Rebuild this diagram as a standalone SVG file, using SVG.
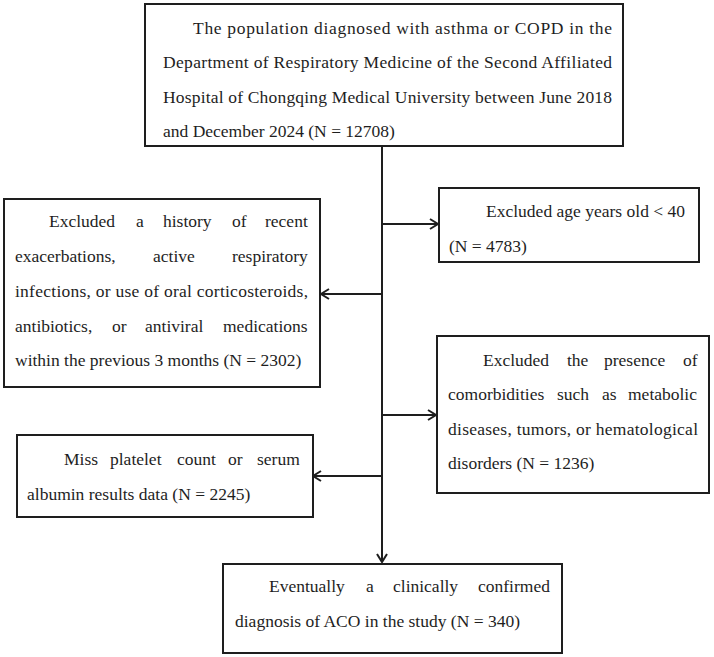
<svg xmlns="http://www.w3.org/2000/svg" width="714" height="657" viewBox="0 0 714 657">
<style>
.box{fill:#fff;stroke:#1e1e1e;stroke-width:2}
.t{font-family:"Liberation Serif","Times New Roman",serif;font-size:17.5px;fill:#1e1e1e}
.c{fill:none;stroke:#1e1e1e;stroke-width:2}
</style>
<defs>
<marker id="ah" markerUnits="userSpaceOnUse" markerWidth="14" markerHeight="14" refX="10" refY="6" orient="auto">
<path d="M2,1 L10,6 L2,11" fill="none" stroke="#1e1e1e" stroke-width="2"/>
</marker>
</defs>
<g id="connectors">
<line class="c" x1="382" y1="146" x2="382" y2="562" marker-end="url(#ah)"/>
<line class="c" x1="382" y1="224" x2="438" y2="224" marker-end="url(#ah)"/>
<line class="c" x1="382" y1="294" x2="321" y2="294" marker-end="url(#ah)"/>
<line class="c" x1="382" y1="415" x2="436" y2="415" marker-end="url(#ah)"/>
<line class="c" x1="382" y1="476" x2="313" y2="476" marker-end="url(#ah)"/>
</g>
<g id="n-population">
<rect class="box" x="145" y="4" width="478" height="142"/>
<text class="t" x="193" y="34" textLength="419" lengthAdjust="spacing">The population diagnosed with asthma or COPD in the</text>
<text class="t" x="163" y="68" textLength="449" lengthAdjust="spacing">Department of Respiratory Medicine of the Second Affiliated</text>
<text class="t" x="163" y="103" textLength="449" lengthAdjust="spacing">Hospital of Chongqing Medical University between June 2018</text>
<text class="t" x="163" y="137">and December 2024 (N = 12708)</text>
</g>
<g id="n-age">
<rect class="box" x="439" y="188" width="260" height="74"/>
<text class="t" x="486" y="217" textLength="199" lengthAdjust="spacing">Excluded age years old &lt; 40</text>
<text class="t" x="449" y="252">(N = 4783)</text>
</g>
<g id="n-exacerbations">
<rect class="box" x="4" y="199" width="316" height="188"/>
<text class="t" y="227"><tspan x="49">Excluded</tspan><tspan x="136">a</tspan><tspan x="163">history</tspan><tspan x="232">of</tspan><tspan x="265">recent</tspan></text>
<text class="t" y="262"><tspan x="15">exacerbations,</tspan><tspan x="153">active</tspan><tspan x="232">respiratory</tspan></text>
<text class="t" x="15" y="297" textLength="293" lengthAdjust="spacing">infections, or use of oral corticosteroids,</text>
<text class="t" y="332"><tspan x="15">antibiotics,</tspan><tspan x="112">or</tspan><tspan x="145">antiviral</tspan><tspan x="223">medications</tspan></text>
<text class="t" x="15" y="366">within the previous 3 months (N = 2302)</text>
</g>
<g id="n-comorbidities">
<rect class="box" x="437" y="336" width="272" height="157"/>
<text class="t" y="366"><tspan x="483">Excluded</tspan><tspan x="567">the</tspan><tspan x="604">presence</tspan><tspan x="683">of</tspan></text>
<text class="t" y="400"><tspan x="448">comorbidities</tspan><tspan x="557">such</tspan><tspan x="602">as</tspan><tspan x="628">metabolic</tspan></text>
<text class="t" x="448" y="435" textLength="250" lengthAdjust="spacing">diseases, tumors, or hematological</text>
<text class="t" x="448" y="469">disorders (N = 1236)</text>
</g>
<g id="n-missing">
<rect class="box" x="17" y="435" width="296" height="82"/>
<text class="t" y="465"><tspan x="64">Miss</tspan><tspan x="110">platelet</tspan><tspan x="177">count</tspan><tspan x="228">or</tspan><tspan x="257">serum</tspan></text>
<text class="t" x="27" y="500">albumin results data (N = 2245)</text>
</g>
<g id="n-final">
<rect class="box" x="223" y="564" width="339" height="89"/>
<text class="t" y="592"><tspan x="269">Eventually</tspan><tspan x="366">a</tspan><tspan x="393">clinically</tspan><tspan x="478">confirmed</tspan></text>
<text class="t" x="235" y="627">diagnosis of ACO in the study (N = 340)</text>
</g>
</svg>
